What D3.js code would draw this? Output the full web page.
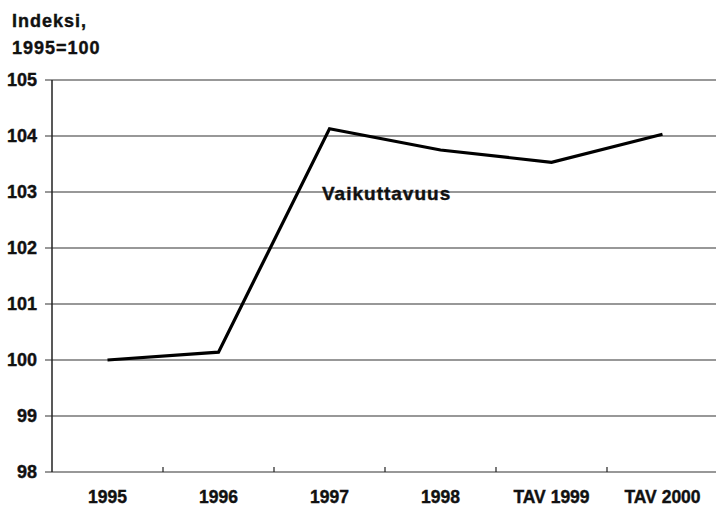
<!DOCTYPE html>
<html lang="fi">
<head>
<meta charset="UTF-8">
<title>Vaikuttavuus</title>
<style>
  body { margin: 0; background: #fff; }
  svg text { font-family: "Liberation Sans", Arial, sans-serif; font-weight: bold; fill: #111; stroke: #111; stroke-width: 0.4px; }
</style>
</head>
<body>
<div id="chart"></div>
<script src="https://cdn.jsdelivr.net/npm/d3@7"></script>
<script>
  // data
  var categories = ["1995", "1996", "1997", "1998", "TAV 1999", "TAV 2000"];
  var values = [100, 100.14, 104.13, 103.75, 103.53, 104.03];
  var yTicks = [98, 99, 100, 101, 102, 103, 104, 105];

  var width = 716, height = 508;
  var margin = { top: 80, right: -2, bottom: 36, left: 52 };

  var svg = d3.select("#chart").append("svg")
    .attr("width", width)
    .attr("height", height);

  var x = d3.scaleBand()
    .domain(categories)
    .range([margin.left, width - margin.right]);

  var y = d3.scaleLinear()
    .domain([98, 105])
    .range([height - margin.bottom, margin.top]);

  // gridlines
  svg.append("g")
    .selectAll("line")
    .data(yTicks)
    .join("line")
    .attr("x1", margin.left - 7)
    .attr("x2", width)
    .attr("y1", d => y(d))
    .attr("y2", d => y(d))
    .attr("stroke", "#333")
    .attr("stroke-width", 1.2);

  // y axis line
  svg.append("line")
    .attr("x1", margin.left).attr("x2", margin.left)
    .attr("y1", y(105)).attr("y2", y(98))
    .attr("stroke", "#222")
    .attr("stroke-width", 1.5);

  // y tick labels
  svg.append("g")
    .selectAll("text")
    .data(yTicks)
    .join("text")
    .attr("x", 37)
    .attr("y", d => y(d) + 6)
    .attr("text-anchor", "end")
    .attr("font-size", 18)
    .text(d => d);

  // x tick marks between categories
  svg.append("g")
    .selectAll("line")
    .data(categories.slice(1))
    .join("line")
    .attr("x1", d => x(d)).attr("x2", d => x(d))
    .attr("y1", y(98)).attr("y2", y(98) - 5)
    .attr("stroke", "#222")
    .attr("stroke-width", 1.2);

  // x labels
  svg.append("g")
    .selectAll("text")
    .data(categories)
    .join("text")
    .attr("x", d => x(d) + x.bandwidth() / 2)
    .attr("y", 503)
    .attr("text-anchor", "middle")
    .attr("font-size", 17.5)
    .text(d => d);

  // series line
  var line = d3.line()
    .x((d, i) => x(categories[i]) + x.bandwidth() / 2)
    .y(d => y(d));

  svg.append("path")
    .datum(values)
    .attr("d", line)
    .attr("fill", "none")
    .attr("stroke", "#000")
    .attr("stroke-width", 3.2)
    .attr("stroke-linejoin", "miter");

  // series label
  svg.append("text")
    .attr("x", 322)
    .attr("y", 200)
    .attr("font-size", 19)
    .attr("letter-spacing", 1)
    .text("Vaikuttavuus");

  // axis title
  var title = svg.append("text")
    .attr("font-size", 18)
    .attr("letter-spacing", 1);
  title.append("tspan").attr("x", 12).attr("y", 27).text("Indeksi,");
  title.append("tspan").attr("x", 12).attr("y", 54).text("1995=100");
</script>
</body>
</html>
